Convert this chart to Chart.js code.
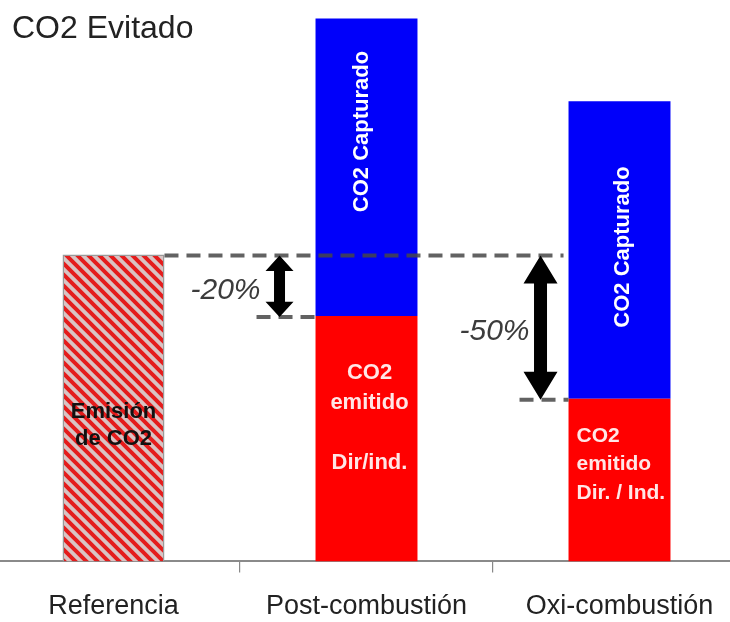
<!DOCTYPE html>
<html lang="es">
<head>
<meta charset="UTF-8">
<title>CO2 Evitado</title>
<script src="https://cdn.jsdelivr.net/npm/chart.js@4/dist/chart.umd.min.js"></script>
<style>
  body { margin: 0; width: 730px; height: 622px; overflow: hidden; background: #fff; position: relative; font-family: "Liberation Sans", Arial, sans-serif; }
  .title { position: absolute; left: 12px; top: 11px; font-size: 32px; line-height: 1; color: #222; z-index: 2; }
  .wrap { position: absolute; left: -13px; top: 0; width: 759px; height: 640px; }
</style>
</head>
<body>
<div class="title">CO2 Evitado</div>
<div class="wrap"><canvas id="chart"></canvas></div>
<script>
const categories = ['Referencia', 'Post-combustión', 'Oxi-combustión'];
const emitido = [100, 80, 53];
const capturado = [null, 97, 97];
const reducciones = ['', '-20%', '-50%'];
const textoEmitido = [['Emisión', 'de CO2'], ['CO2', 'emitido', '', 'Dir/ind.'], ['CO2', 'emitido', 'Dir. / Ind.']];
const textoCapturado = 'CO2 Capturado';

const FONT = '"Liberation Sans", Arial, sans-serif';

function stripes() {
  const c = document.createElement('canvas');
  c.width = 11; c.height = 11;
  const g = c.getContext('2d');
  g.fillStyle = '#d9c3c3';
  g.fillRect(0, 0, 11, 11);
  g.strokeStyle = '#e41c1c';
  g.lineWidth = 4;
  g.beginPath();
  g.moveTo(-5, -5); g.lineTo(16, 16);
  g.moveTo(6, -5); g.lineTo(16, 5);
  g.moveTo(-5, 6); g.lineTo(5, 16);
  g.stroke();
  return g.createPattern(c, 'repeat');
}

function arrow(ctx, x, y1, y2) {
  const len = y2 - y1;
  const head = Math.min(28, len * 0.25);
  const hw = len > 100 ? 17 : 14;
  const sw = len > 100 ? 6.5 : 5.5;
  ctx.beginPath();
  ctx.moveTo(x, y1);
  ctx.lineTo(x + hw, y1 + head);
  ctx.lineTo(x + sw, y1 + head);
  ctx.lineTo(x + sw, y2 - head);
  ctx.lineTo(x + hw, y2 - head);
  ctx.lineTo(x, y2);
  ctx.lineTo(x - hw, y2 - head);
  ctx.lineTo(x - sw, y2 - head);
  ctx.lineTo(x - sw, y1 + head);
  ctx.lineTo(x - hw, y1 + head);
  ctx.closePath();
  ctx.fillStyle = '#000';
  ctx.fill();
}

const anotaciones = {
  id: 'anotaciones',
  afterDatasetsDraw(chart) {
    const ctx = chart.ctx;
    const red = chart.getDatasetMeta(0).data;
    const blue = chart.getDatasetMeta(1).data;
    const refTop = red[0].y;
    const left = (el) => el.x - el.width / 2;

    ctx.save();
    // dashed reference level
    ctx.strokeStyle = 'rgba(70,70,70,0.85)';
    ctx.lineWidth = 4;
    ctx.setLineDash([14, 8]);
    ctx.beginPath();
    ctx.moveTo(red[0].x + red[0].width / 2, refTop + 1);
    ctx.lineTo(left(red[2]) - 5, refTop + 1);
    ctx.stroke();

    const arrowGap = [0, 36, 28];
    const dashLen = [0, 59, 49];
    const labelGap = [0, 54, 46];
    for (let i = 1; i < categories.length; i++) {
      const bl = left(red[i]);
      const top = red[i].y;
      ctx.setLineDash([14, 8]);
      ctx.beginPath();
      ctx.moveTo(bl - dashLen[i], top + 1);
      ctx.lineTo(bl, top + 1);
      ctx.stroke();
      ctx.setLineDash([]);
      arrow(ctx, bl - arrowGap[i], refTop + 1, top + 1);
      ctx.font = 'italic 30px ' + FONT;
      ctx.fillStyle = '#3c3c3c';
      ctx.textAlign = 'center';
      ctx.textBaseline = 'middle';
      ctx.fillText(reducciones[i], bl - arrowGap[i] - labelGap[i], (refTop + top) / 2 + 5);
    }

    // labels inside emitted bars
    ctx.font = 'bold 22px ' + FONT;
    ctx.textBaseline = 'middle';
    const r0 = red[0];
    ctx.fillStyle = '#111';
    ctx.textAlign = 'center';
    textoEmitido[0].forEach((t, k) => ctx.fillText(t, r0.x, r0.y + 157 + k * 27));
    ctx.fillStyle = '#ffe6e6';
    textoEmitido[1].forEach((t, k) => ctx.fillText(t, red[1].x + 3, red[1].y + 57 + k * 30));
    ctx.textAlign = 'left';
    ctx.font = 'bold 21px ' + FONT;
    textoEmitido[2].forEach((t, k) => ctx.fillText(t, left(red[2]) + 8, red[2].y + 37 + k * 28.5));

    // rotated labels inside captured bars
    const frac = [0, 0.38, 0.49];
    const dx = [0, -5, 3];
    ctx.font = 'bold 22px ' + FONT;
    ctx.fillStyle = '#fff';
    ctx.textAlign = 'center';
    for (let i = 1; i < categories.length; i++) {
      const b = blue[i];
      ctx.save();
      ctx.translate(b.x + dx[i], b.y + (b.base - b.y) * frac[i]);
      ctx.rotate(-Math.PI / 2);
      ctx.fillText(textoCapturado, 0, 0);
      ctx.restore();
    }
    ctx.restore();
  }
};

new Chart(document.getElementById('chart'), {
  type: 'bar',
  data: {
    labels: categories,
    datasets: [
      {
        label: 'CO2 emitido',
        data: emitido,
        backgroundColor: [stripes(), '#ff0000', '#ff0000'],
        borderColor: ['#9a9a9a', '#ff0000', '#ff0000'],
        borderWidth: [1.5, 0, 0],
        borderSkipped: 'bottom'
      },
      {
        label: 'CO2 Capturado',
        data: capturado,
        backgroundColor: '#0000fa',
        borderWidth: 0
      }
    ]
  },
  options: {
    responsive: true,
    maintainAspectRatio: false,
    animation: false,
    layout: { padding: 0 },
    datasets: { bar: { categoryPercentage: 1, barPercentage: 0.403 } },
    plugins: { legend: { display: false }, tooltip: { enabled: false } },
    scales: {
      x: {
        stacked: true,
        grid: { offset: true, drawOnChartArea: false, tickLength: 11, color: '#888', lineWidth: 1.2 },
        border: { color: '#8a8a8a', width: 2 },
        ticks: { font: { family: FONT, size: 27 }, color: '#222', padding: 17.6, maxRotation: 0, autoSkip: false }
      },
      y: { stacked: true, display: false, min: 0, max: 183 }
    }
  },
  plugins: [anotaciones]
});
</script>
</body>
</html>
